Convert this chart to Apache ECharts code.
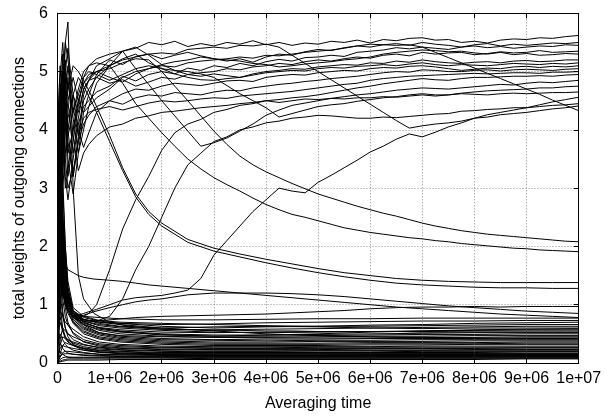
<!DOCTYPE html>
<html>
<head>
<meta charset="utf-8">
<script src="https://cdn.jsdelivr.net/npm/echarts@6/dist/echarts.min.js"></script>
<style>
html,body{margin:0;padding:0;background:#fff;}
#chart{width:612px;height:417px;}
</style>
</head>
<body>
<div id="chart"></div>
<script>
// ---- tick labels / titles ----
const xTickLabels = ["0","1e+06","2e+06","3e+06","4e+06","5e+06","6e+06","7e+06","8e+06","9e+06","1e+07"];
const yTickLabels = ["0","1","2","3","4","5","6"];
const xTitle = "Averaging time";
const yTitle = "total weights of outgoing connections";

// ---- sample times (units of 1e6) ----
// fine grid for the wandering upper curves
const tW = [0,0.05,0.1,0.15,0.2,0.3,0.4,0.5,0.6,0.75,
            1,1.25,1.5,1.75,2,2.25,2.5,2.75,3,
            3.25,3.5,3.75,4,4.25,4.5,4.75,5,
            5.25,5.5,5.75,6,6.25,6.5,6.75,7,
            7.25,7.5,7.75,8,8.25,8.5,8.75,9,
            9.25,9.5,9.75,10];
// grid for the smooth decaying curves
const tSm = [0,0.05,0.1,0.15,0.2,0.3,0.4,0.5,0.7,1,1.25,1.5,1.75,2,2.5,3,3.5,4,4.5,5,5.5,6,6.5,7,7.5,8,8.5,9,9.5,10];
// grid for the low bundle
const tLo = [0,0.05,0.1,0.15,0.2,0.3,0.5,0.8,1.2,2,3,4,5,6,7,8,9,10];

// ---- upper wandering curves (on tW) ----
const hi01 = [0.5,3.2,4.6,4.9,4.0,3.2,3.9,4.6,4.85,5.1, 5.22,5.35,5.4,5.5,5.46,5.52,5.43,5.48,5.44, 5.5,5.47,5.53,5.46,5.5,5.45,5.49,5.47, 5.52,5.5,5.54,5.49,5.55,5.53,5.57,5.58, 5.54,5.55,5.5,5.52,5.49,5.54,5.56,5.55, 5.58,5.57,5.6,5.62];
const hi02 = [1.2,4.0,5.3,4.4,3.5,2.9,3.6,4.3,4.6,4.95, 5.2,5.12,5.26,5.3,5.22,5.28,5.33,5.27,5.22, 5.18,5.22,5.16,5.25,5.3,5.28,5.34,5.38, 5.36,5.41,5.44,5.42,5.46,5.48,5.45,5.5, 5.47,5.45,5.42,5.46,5.48,5.44,5.47,5.45, 5.47,5.49,5.48,5.5];
const hi03 = [2.0,3.5,4.2,3.2,2.8,3.5,4.1,4.4,4.5,4.65, 4.75,4.92,4.84,4.95,5.0,4.96,5.06,5.02,5.1, 5.07,5.14,5.1,5.17,5.21,5.18,5.24,5.25, 5.28,5.26,5.33,5.35,5.37,5.41,5.39,5.42, 5.4,5.38,5.42,5.44,5.41,5.43,5.4,5.42, 5.44,5.43,5.46,5.45];
const hi04 = [0.8,2.6,3.8,4.6,5.1,4.2,3.6,4.0,4.4,4.8, 5.1,5.35,5.42,5.28,5.12,5.02,4.95,4.98,5.0, 5.05,5.03,5.08,5.1,5.14,5.12,5.17,5.2, 5.18,5.22,5.25,5.23,5.28,5.3,5.27,5.33, 5.3,5.32,5.33,5.29,5.31,5.34,5.32,5.33, 5.36,5.33,5.34,5.35];
const hi05 = [3.0,4.8,3.9,3.0,3.3,4.0,4.5,4.8,4.95,5.0, 4.9,4.82,4.96,5.05,5.12,5.17,5.2,5.25,5.22, 5.2,5.18,5.14,5.12,5.08,5.1,5.13,5.15, 5.17,5.2,5.22,5.25,5.3,5.33,5.35,5.37, 5.36,5.34,5.35,5.32,5.3,5.33,5.29,5.31, 5.28,5.29,5.31,5.3];
const hi06 = [1.5,3.0,4.4,5.2,4.5,3.6,4.2,4.7,4.85,4.9, 4.8,4.86,4.75,4.82,4.9,4.87,4.95,4.92,4.96, 4.93,4.9,4.96,5.0,5.02,5.05,5.04,5.08, 5.1,5.12,5.11,5.15,5.14,5.18,5.16,5.2, 5.17,5.15,5.14,5.16,5.17,5.15,5.18,5.19, 5.17,5.18,5.2,5.2];
const hi07 = [2.5,4.5,5.0,4.1,3.2,3.8,4.4,4.9,5.1,5.15, 5.1,5.22,5.3,5.15,5.05,4.96,4.9,4.86,4.85, 4.88,4.9,4.94,4.98,5.0,5.02,5.01,5.05, 5.07,5.06,5.09,5.1,5.12,5.1,5.13,5.15, 5.12,5.1,5.12,5.11,5.1,5.12,5.14,5.13, 5.12,5.14,5.13,5.15];
const hi08 = [0.3,2.0,3.0,3.6,4.2,4.6,4.0,3.7,3.95,4.3, 4.5,4.62,4.7,4.68,4.75,4.8,4.78,4.76,4.8, 4.84,4.85,4.83,4.9,4.93,4.95,4.94,4.98, 5.0,5.02,5.01,5.05,5.07,5.06,5.09,5.1, 5.08,5.05,5.02,5.04,5.06,5.05,5.08,5.09, 5.07,5.09,5.08,5.1];
const hi09 = [4.0,5.1,4.5,3.5,3.0,3.3,3.8,4.1,4.25,4.4, 4.5,4.44,4.55,4.6,4.58,4.64,4.62,4.6,4.65, 4.68,4.67,4.72,4.75,4.78,4.8,4.83,4.85, 4.88,4.9,4.92,4.95,4.98,5.0,4.99,5.03, 5.02,5.0,5.0,5.02,5.03,5.01,5.03,5.04, 5.03,5.02,5.04,5.05];
const hi10 = [1.0,3.3,4.8,5.5,5.2,4.4,3.9,4.2,4.3,4.35, 4.4,4.34,4.4,4.46,4.5,4.48,4.5,4.53,4.55, 4.54,4.58,4.6,4.62,4.64,4.66,4.69,4.72, 4.75,4.78,4.8,4.85,4.88,4.9,4.92,4.93, 4.94,4.95,4.96,4.97,4.96,4.97,4.98,4.98, 4.97,4.99,4.99,5.0];
const hi11 = [0.2,1.5,3.4,4.3,4.9,3.9,3.3,3.6,3.75,3.9, 4.05,4.1,4.2,4.24,4.3,4.32,4.35,4.38,4.4, 4.42,4.45,4.47,4.5,4.52,4.55,4.57,4.6, 4.64,4.68,4.72,4.75,4.79,4.82,4.85,4.88, 4.86,4.85,4.88,4.9,4.9,4.91,4.92,4.92, 4.93,4.92,4.94,4.95];
const vee1 = [2.2,3.8,5.0,4.6,3.9,4.3,4.7,5.0,5.1,5.22, 5.3,5.35,5.05,4.78,4.5,4.24,3.98,3.72,3.78, 3.86,3.98,4.1,4.25,4.34,4.42,4.46,4.5, 4.54,4.57,4.6,4.62,4.65,4.68,4.7,4.72, 4.71,4.7,4.72,4.74,4.76,4.78,4.77,4.8, 4.82,4.81,4.83,4.85];
const vee2 = [0.6,2.2,3.6,4.4,4.8,4.3,4.6,4.9,5.0,4.95, 4.85,4.95,5.05,5.1,5.05,5.02,5.0,4.96,4.9, 4.76,4.62,4.5,4.38,4.22,4.28,4.34,4.4, 4.43,4.45,4.49,4.52,4.55,4.57,4.6,4.62, 4.6,4.6,4.63,4.65,4.67,4.68,4.69,4.7, 4.72,4.72,4.74,4.75];
const rise1 = [3.5,2.0,1.4,1.1,0.95,0.85,0.8,0.8,0.85,1.0, 1.6,2.3,2.8,3.2,3.65,3.95,4.1,4.18,4.3, 4.35,4.42,4.45,4.5,4.47,4.5,4.53,4.52, 4.54,4.53,4.55,4.55,4.57,4.56,4.58,4.6, 4.58,4.6,4.62,4.61,4.6,4.62,4.63,4.62, 4.63,4.64,4.64,4.65];
const rise2 = [0.1,1.5,2.5,1.6,1.2,0.9,0.8,0.75,0.73,0.72, 0.8,1.1,1.6,2.0,2.5,3.0,3.4,3.6,3.8, 3.88,4.0,4.05,4.12,4.15,4.2,4.22,4.25, 4.24,4.22,4.2,4.2,4.22,4.21,4.23,4.25, 4.27,4.28,4.32,4.33,4.35,4.36,4.38,4.38, 4.4,4.42,4.43,4.45];
const rise3 = [2.8,1.8,1.2,1.0,0.9,0.85,0.82,0.85,0.88,0.92, 1.0,1.08,1.12,1.14,1.16,1.2,1.25,1.45,1.85, 2.1,2.35,2.6,2.8,3.0,2.95,2.92,3.1, 3.22,3.35,3.48,3.62,3.72,3.84,3.93,3.88, 3.96,4.05,4.12,4.2,4.26,4.3,4.34,4.38, 4.43,4.48,4.52,4.56];
const drop1 = [1.8,4.2,5.0,4.5,3.8,3.2,3.8,4.5,4.7,4.9, 5.1,5.2,5.25,5.3,5.32,5.3,5.38,5.4,5.42, 5.4,5.45,5.44,5.47,5.42,5.28,5.14,5.0, 4.86,4.72,4.58,4.44,4.3,4.16,4.03,4.07, 4.1,4.12,4.15,4.2,4.22,4.26,4.28,4.3, 4.33,4.36,4.38,4.41];
const late1 = [0.4,1.8,3.2,4.0,4.5,4.9,4.5,4.3,4.4,4.55, 4.7,4.9,5.0,5.05,5.1,5.08,5.15,5.18,5.2, 5.22,5.25,5.23,5.28,5.27,5.3,5.33,5.35, 5.37,5.4,5.44,5.47,5.46,5.45,5.46,5.42, 5.33,5.24,5.15,5.06,4.97,4.88,4.79,4.7, 4.61,4.51,4.42,4.33];
const drop2 = [3.2,4.6,5.2,4.4,3.6,4.0,4.5,4.8,4.9,5.0, 5.05,5.15,5.22,5.2,5.0,4.75,4.5,4.24,3.98, 3.75,3.55,3.4,3.28,3.18,3.08,2.99,2.9, 2.83,2.76,2.69,2.63,2.57,2.52,2.46,2.4, 2.35,2.31,2.27,2.24,2.21,2.19,2.17,2.15, 2.13,2.11,2.09,2.08];
const drop3 = [0.9,2.5,4.0,5.0,5.4,4.6,4.3,4.7,4.85,5.0, 5.1,4.8,4.45,4.2,3.95,3.72,3.5,3.33,3.18, 3.06,2.95,2.83,2.72,2.63,2.55,2.5,2.44, 2.38,2.32,2.28,2.24,2.21,2.18,2.15,2.13, 2.1,2.08,2.05,2.03,2.01,1.99,1.97,1.96, 1.94,1.93,1.92,1.91];

// ---- smooth decaying / middle curves (on tSm) ----
const drop4 = [4.5,3.2,4.4,5.0,4.7,5.1,5.0,4.85,4.5,3.9,3.35,2.9,2.6,2.4,2.12,1.97,1.87,1.78,1.7,1.62,1.55,1.5,1.45,1.42,1.4,1.39,1.38,1.38,1.38,1.38];
const drop5 = [2.0,4.9,5.5,4.8,4.0,4.6,4.9,4.75,4.4,3.8,3.3,2.85,2.55,2.35,2.07,1.92,1.82,1.72,1.63,1.55,1.48,1.42,1.37,1.34,1.32,1.3,1.29,1.29,1.28,1.28];
const spike = [0.6,2.5,4.2,5.5,5.85,3.0,1.5,1.1,0.85,0.7,0.65,0.62,0.6,0.58,0.57,0.56,0.56,0.55,0.55,0.54,0.54,0.54,0.54,0.53,0.53,0.53,0.53,0.53,0.53,0.53];
const mid1 = [1.5,3.0,2.2,1.5,1.1,0.85,0.8,0.82,0.88,0.95,1.0,1.05,1.08,1.1,1.17,1.2,1.2,1.2,1.19,1.17,1.14,1.1,1.06,1.02,0.98,0.95,0.92,0.89,0.87,0.85];
const mid2 = [0.2,2.8,1.8,1.2,0.9,0.78,0.74,0.72,0.72,0.74,0.76,0.78,0.79,0.8,0.81,0.82,0.83,0.84,0.86,0.88,0.9,0.93,0.95,0.96,0.96,0.97,0.96,0.97,0.97,0.97];
const mid3 = [3.8,2.6,2.0,1.7,1.6,1.55,1.5,1.47,1.44,1.42,1.4,1.37,1.34,1.32,1.28,1.24,1.2,1.16,1.12,1.08,1.04,1.0,0.96,0.93,0.9,0.87,0.84,0.82,0.8,0.78];

// ---- low bundle (on tLo) ----
const lo01 = [4.2,3.0,2.2,1.5,1.1,0.85,0.8,0.78,0.76,0.74,0.74,0.75,0.76,0.76,0.77,0.77,0.77,0.77];
const lo02 = [0.5,2.5,1.8,1.2,0.95,0.82,0.75,0.7,0.68,0.66,0.67,0.69,0.7,0.71,0.72,0.72,0.73,0.73];
const lo03 = [2.8,3.8,2.5,1.6,1.2,0.9,0.78,0.72,0.68,0.63,0.6,0.62,0.63,0.65,0.66,0.68,0.69,0.7];
const lo04 = [1.2,1.8,3.0,2.0,1.4,0.95,0.8,0.73,0.7,0.68,0.66,0.64,0.63,0.63,0.64,0.65,0.66,0.66];
const lo05 = [3.5,2.2,1.6,1.3,1.0,0.82,0.72,0.66,0.62,0.58,0.57,0.58,0.59,0.6,0.61,0.62,0.63,0.63];
const lo06 = [0.1,1.2,2.4,1.8,1.3,0.9,0.75,0.68,0.63,0.6,0.62,0.63,0.62,0.6,0.59,0.6,0.6,0.6];
const lo07 = [2.0,4.5,3.2,2.0,1.3,0.88,0.72,0.64,0.6,0.56,0.53,0.52,0.53,0.54,0.55,0.56,0.57,0.57];
const lo08 = [4.8,3.4,2.0,1.4,1.05,0.8,0.68,0.61,0.57,0.53,0.52,0.53,0.54,0.54,0.54,0.55,0.55,0.55];
const lo09 = [0.8,2.0,1.5,1.2,1.0,0.85,0.7,0.6,0.55,0.5,0.48,0.48,0.49,0.5,0.51,0.52,0.52,0.52];
const lo10 = [3.0,1.5,1.2,1.0,0.9,0.78,0.66,0.58,0.53,0.49,0.46,0.46,0.47,0.48,0.49,0.49,0.5,0.5];
const lo11 = [1.6,2.9,2.1,1.5,1.1,0.82,0.66,0.56,0.5,0.46,0.44,0.44,0.45,0.46,0.46,0.47,0.47,0.47];
const lo12 = [0.3,0.9,1.6,1.3,1.0,0.8,0.62,0.52,0.47,0.45,0.44,0.43,0.43,0.43,0.44,0.44,0.45,0.45];
const lo13 = [2.4,3.3,2.6,1.8,1.2,0.85,0.65,0.52,0.46,0.42,0.4,0.41,0.41,0.42,0.42,0.42,0.43,0.43];
const lo14 = [3.8,2.5,1.4,1.1,0.92,0.78,0.6,0.5,0.44,0.4,0.39,0.38,0.39,0.39,0.4,0.4,0.4,0.4];
const lo15 = [0.9,1.4,1.9,1.5,1.1,0.75,0.58,0.48,0.42,0.38,0.36,0.36,0.37,0.37,0.37,0.38,0.38,0.38];
const lo16 = [1.9,2.7,1.7,1.2,0.95,0.72,0.55,0.45,0.4,0.36,0.34,0.34,0.34,0.35,0.35,0.35,0.36,0.36];
const lo17 = [4.4,2.0,1.3,1.0,0.85,0.7,0.53,0.43,0.38,0.34,0.32,0.32,0.32,0.33,0.33,0.33,0.34,0.34];
const lo18 = [0.6,1.1,1.4,1.1,0.9,0.68,0.5,0.41,0.36,0.32,0.3,0.3,0.3,0.31,0.31,0.32,0.32,0.32];
const lo19 = [2.6,1.7,1.3,1.05,0.9,0.8,0.74,0.7,0.66,0.6,0.55,0.5,0.47,0.45,0.44,0.43,0.42,0.42];
const lo20 = [1.4,3.6,2.3,1.6,1.15,0.85,0.7,0.6,0.54,0.48,0.46,0.48,0.5,0.53,0.55,0.57,0.58,0.59];
const lo21 = [0.2,0.9,0.8,0.7,0.65,0.58,0.45,0.36,0.32,0.29,0.28,0.28,0.28,0.28,0.29,0.29,0.29,0.29];
const lo22 = [3.2,1.8,1.1,0.8,0.65,0.52,0.4,0.33,0.3,0.27,0.26,0.26,0.27,0.27,0.27,0.27,0.27,0.27];
const lo23 = [0.05,0.4,0.6,0.55,0.5,0.45,0.37,0.31,0.28,0.26,0.25,0.25,0.25,0.25,0.25,0.25,0.26,0.26];
const lo24 = [1.1,2.2,1.4,0.95,0.7,0.5,0.36,0.29,0.26,0.24,0.23,0.23,0.23,0.24,0.24,0.24,0.24,0.24];
const lo25 = [0.0,0.3,0.45,0.42,0.4,0.36,0.31,0.27,0.25,0.23,0.22,0.22,0.22,0.22,0.22,0.23,0.23,0.23];
const lo26 = [2.2,1.2,0.8,0.6,0.5,0.4,0.32,0.26,0.23,0.21,0.2,0.2,0.21,0.21,0.21,0.21,0.21,0.21];
const lo27 = [0.4,0.7,0.55,0.45,0.4,0.34,0.28,0.24,0.22,0.2,0.19,0.19,0.19,0.19,0.2,0.2,0.2,0.2];
const lo28 = [0.02,0.15,0.3,0.35,0.33,0.3,0.26,0.22,0.2,0.18,0.18,0.18,0.18,0.18,0.18,0.18,0.19,0.19];
const lo29 = [1.5,0.8,0.55,0.42,0.36,0.3,0.25,0.21,0.19,0.17,0.17,0.17,0.17,0.17,0.17,0.17,0.17,0.17];
const lo30 = [0.1,0.25,0.3,0.28,0.27,0.25,0.22,0.19,0.17,0.16,0.16,0.16,0.16,0.16,0.16,0.16,0.16,0.16];
const lo31 = [0.6,1.5,0.9,0.6,0.45,0.32,0.24,0.19,0.17,0.15,0.15,0.15,0.15,0.15,0.15,0.15,0.15,0.15];
const lo32 = [0.0,0.1,0.18,0.2,0.2,0.19,0.17,0.15,0.14,0.14,0.14,0.14,0.14,0.14,0.14,0.14,0.14,0.14];
const lo33 = [0.3,0.5,0.4,0.32,0.27,0.22,0.18,0.15,0.14,0.13,0.13,0.13,0.13,0.13,0.13,0.13,0.13,0.13];
const lo34 = [0.05,0.12,0.15,0.16,0.16,0.15,0.14,0.13,0.12,0.12,0.12,0.12,0.12,0.12,0.12,0.12,0.12,0.12];
const lo35 = [0.8,0.35,0.25,0.2,0.17,0.15,0.13,0.12,0.11,0.11,0.11,0.11,0.11,0.11,0.11,0.11,0.11,0.11];
const lo36 = [0.0,0.06,0.09,0.1,0.1,0.1,0.1,0.1,0.1,0.1,0.1,0.1,0.1,0.1,0.1,0.1,0.1,0.1];
const lo37 = [0.15,0.2,0.15,0.12,0.1,0.09,0.09,0.09,0.09,0.09,0.09,0.09,0.09,0.09,0.09,0.09,0.09,0.09];
const lo38 = [0.0,0.03,0.05,0.06,0.07,0.07,0.07,0.07,0.07,0.07,0.08,0.08,0.08,0.08,0.08,0.08,0.08,0.08];
const lo39 = [0.01,0.02,0.03,0.04,0.05,0.05,0.05,0.05,0.06,0.06,0.06,0.06,0.06,0.06,0.06,0.06,0.07,0.07];
const lo40 = [2.0,1.0,0.6,0.45,0.38,0.3,0.22,0.18,0.16,0.14,0.13,0.13,0.13,0.14,0.14,0.14,0.14,0.14];

const wanderLines = [hi01,hi02,hi03,hi04,hi05,hi06,hi07,hi08,hi09,hi10,hi11,vee1,vee2,rise1,rise2,rise3,drop1,late1,drop2,drop3];
const smoothLines = [drop4,drop5,spike,mid1,mid2,mid3];
const loLines = [lo01,lo02,lo03,lo04,lo05,lo06,lo07,lo08,lo09,lo10,lo11,lo12,lo13,lo14,lo15,lo16,lo17,lo18,lo19,lo20,
                 lo21,lo22,lo23,lo24,lo25,lo26,lo27,lo28,lo29,lo30,lo31,lo32,lo33,lo34,lo35,lo36,lo37,lo38,lo39,lo40];

const TIME_UNIT = 1e6;
function pairs(t, v) { return t.map(function (x, i) { return [x * TIME_UNIT, v[i]]; }); }

const FONT = '"Liberation Sans", Arial, Helvetica, sans-serif';
const lineStyle = { color: '#000', width: 1 };
const series = [];
function addAll(t, list) {
  list.forEach(function (v) {
    series.push({ type: 'line', data: pairs(t, v), symbol: 'none', showSymbol: false,
                  lineStyle: lineStyle, silent: true, clip: true });
  });
}
addAll(tW, wanderLines);
addAll(tSm, smoothLines);
addAll(tLo, loLines);

const gridDots = { show: true, lineStyle: { color: '#8c8c8c', width: 1, type: [1, 2] } };
const tickIn = { show: true, inside: true, length: 5, lineStyle: { color: '#000', width: 1 } };
const axisBlack = { show: true, onZero: false, lineStyle: { color: '#000', width: 1 } };

const chart = echarts.init(document.getElementById('chart'), null, { renderer: 'canvas' });
chart.setOption({
  animation: false,
  backgroundColor: '#fff',
  grid: { left: 57.5, right: 33.3, top: 13.3, bottom: 51, containLabel: false },
  xAxis: [
    {
      type: 'value', position: 'bottom', min: 0, max: 10 * TIME_UNIT, interval: TIME_UNIT,
      axisLine: axisBlack, axisTick: tickIn, splitLine: gridDots,
      axisLabel: { color: '#000', fontSize: 16, fontFamily: FONT, margin: 8,
        formatter: function (v) { return xTickLabels[Math.round(v / TIME_UNIT)]; } },
      name: xTitle, nameLocation: 'middle', nameGap: 33,
      nameTextStyle: { color: '#000', fontSize: 16, fontFamily: FONT }
    },
    {
      type: 'value', position: 'top', min: 0, max: 10 * TIME_UNIT, interval: TIME_UNIT,
      axisLine: axisBlack, axisTick: tickIn, splitLine: { show: false }, axisLabel: { show: false }
    }
  ],
  yAxis: [
    {
      type: 'value', position: 'left', min: 0, max: 6, interval: 1,
      axisLine: axisBlack, axisTick: tickIn, splitLine: gridDots,
      axisLabel: { color: '#000', fontSize: 16, fontFamily: FONT, margin: 9.5,
        formatter: function (v) { return yTickLabels[Math.round(v)]; } },
      name: yTitle, nameLocation: 'middle', nameGap: 29.5, nameRotate: 90,
      nameTextStyle: { color: '#000', fontSize: 16, fontFamily: FONT }
    },
    {
      type: 'value', position: 'right', min: 0, max: 6, interval: 1,
      axisLine: axisBlack, axisTick: tickIn, splitLine: { show: false }, axisLabel: { show: false }
    }
  ],
  series: series
});
</script>
</body>
</html>
